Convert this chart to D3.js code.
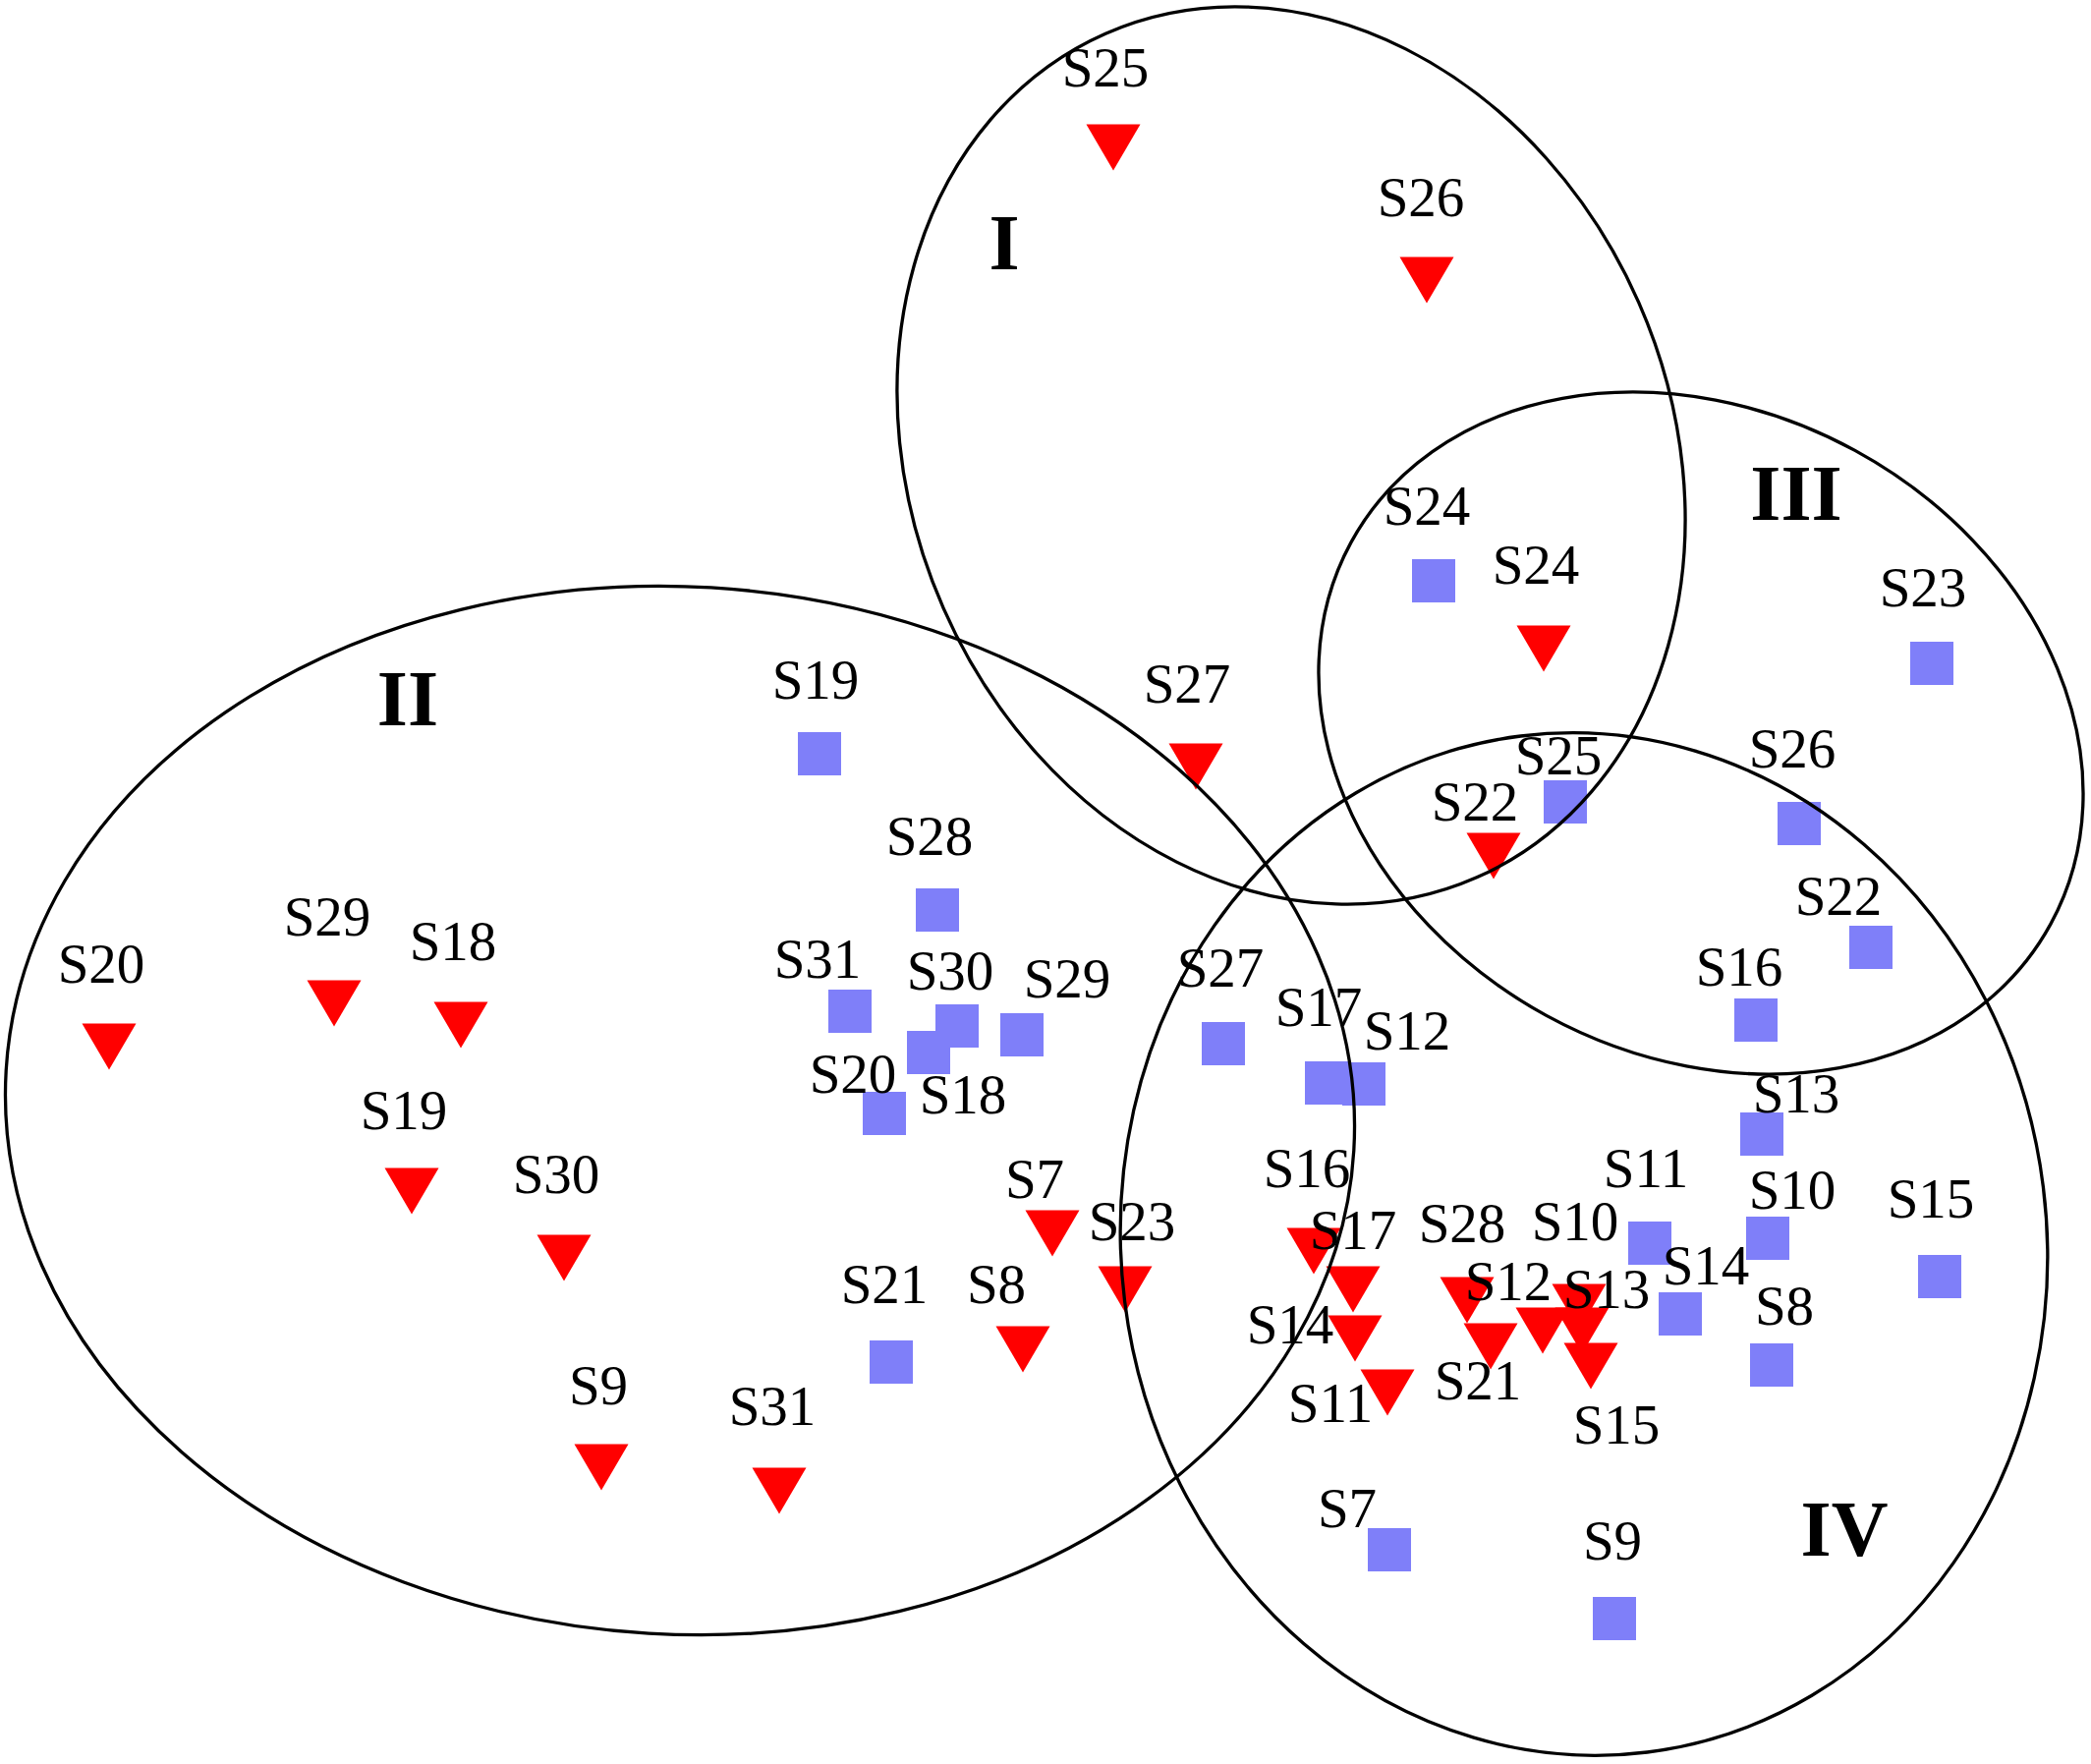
<!DOCTYPE html>
<html>
<head>
<meta charset="utf-8">
<script src="https://cdn.jsdelivr.net/npm/d3@7"></script>
<style>
  html, body { margin: 0; padding: 0; background: #ffffff; }
  svg { display: block; }
</style>
</head>
<body>
<div id="chart"></div>
<script>
// ---------- DATA (ordination coordinates, NMDS1 / NMDS2) ----------
const redSites = ["S25","S26","S24","S27","S22","S20","S29","S18","S19","S30","S9","S31","S7","S23","S8","S16","S17","S14","S11","S28","S21","S12","S10","S13","S15"];
const redX = [0.069,0.388,0.507,0.153,0.456,-0.953,-0.724,-0.595,-0.645,-0.490,-0.452,-0.271,0.007,0.081,-0.023,0.273,0.313,0.315,0.348,0.429,0.453,0.506,0.543,0.546,0.555];
const redY = [0.750,0.615,0.240,0.120,0.029,-0.165,-0.121,-0.143,-0.312,-0.380,-0.593,-0.617,-0.355,-0.412,-0.473,-0.373,-0.412,-0.462,-0.517,-0.423,-0.470,-0.454,-0.430,-0.454,-0.490];
// label anchor positions (same ordination units)
const redLabX = [0.061,0.382,0.499,0.144,0.437,-0.961,-0.731,-0.603,-0.653,-0.498,-0.455,-0.278,-0.011,0.088,-0.050,0.266,0.313,0.249,0.290,0.424,0.440,0.471,0.539,0.571,0.581];
const redLabY = [0.812,0.680,0.306,0.185,0.065,-0.100,-0.052,-0.077,-0.249,-0.314,-0.529,-0.550,-0.319,-0.362,-0.426,-0.308,-0.371,-0.467,-0.547,-0.364,-0.524,-0.423,-0.362,-0.431,-0.569];

const blueSites = ["S24","S23","S25","S26","S19","S28","S31","S30","S18","S29","S20","S21","S22","S16","S27","S17","S12","S13","S11","S10","S15","S14","S8","S7","S9"];
const blueX = [0.395,0.902,0.529,0.767,-0.230,-0.110,-0.199,-0.090,-0.119,-0.024,-0.164,-0.157,0.840,0.723,0.181,0.286,0.324,0.729,0.615,0.735,0.910,0.646,0.739,0.350,0.579];
const blueY = [0.309,0.225,0.084,0.062,0.133,-0.026,-0.129,-0.144,-0.171,-0.153,-0.233,-0.486,-0.064,-0.138,-0.162,-0.202,-0.203,-0.254,-0.365,-0.360,-0.399,-0.437,-0.489,-0.677,-0.747];
const blueLabX = [0.388,0.893,0.522,0.760,-0.234,-0.118,-0.232,-0.097,-0.084,0.022,-0.196,-0.164,0.807,0.706,0.178,0.278,0.368,0.764,0.611,0.760,0.901,0.672,0.752,0.307,0.577];
const blueLabY = [0.366,0.283,0.112,0.119,0.189,0.030,-0.095,-0.107,-0.233,-0.115,-0.212,-0.426,-0.031,-0.103,-0.104,-0.144,-0.168,-0.232,-0.308,-0.330,-0.339,-0.407,-0.448,-0.654,-0.687];

// grouping ellipses
const groupNames = ["I","II","III","IV"];
const groupCX = [0.250,-0.372,0.667,0.548];
const groupCY = [0.4365,-0.230,0.154,-0.366];
const groupRX = [0.3865,0.687,0.4055,0.471];
const groupRY = [0.469,0.533,0.3276,0.521];
const groupAngle = [-23.75,3.4,28.6,-7.1];
const groupLabX = [-0.042,-0.649,0.764,0.813];
const groupLabY = [0.626,0.162,0.371,-0.683];

// ---------- LAYOUT ----------
const W = 2128, H = 1795;
const x = d3.scaleLinear().domain([-1.064, 1.064]).range([0, W]);
const y = d3.scaleLinear().domain([-0.895, 0.900]).range([H, 0]);

const svg = d3.select("#chart").append("svg")
  .attr("width", W).attr("height", H)
  .attr("viewBox", `0 0 ${W} ${H}`);

svg.append("rect").attr("width", W).attr("height", H).attr("fill", "#ffffff");

const red = redSites.map((s, i) => ({ s, x: redX[i], y: redY[i], lx: redLabX[i], ly: redLabY[i] }));
const blue = blueSites.map((s, i) => ({ s, x: blueX[i], y: blueY[i], lx: blueLabX[i], ly: blueLabY[i] }));
const groups = groupNames.map((n, i) => ({ n, cx: groupCX[i], cy: groupCY[i], rx: groupRX[i], ry: groupRY[i], a: groupAngle[i], lx: groupLabX[i], ly: groupLabY[i] }));

const triW = 55, triH = 47, sq = 44;
const triPath = `M${-triW/2},${-triH/2}L${triW/2},${-triH/2}L0,${triH/2}Z`;

// markers
svg.append("g").selectAll("rect").data(blue).join("rect")
  .attr("x", d => x(d.x) - sq/2).attr("y", d => y(d.y) - sq/2)
  .attr("width", sq).attr("height", sq)
  .attr("fill", "#7f7ff9");

svg.append("g").selectAll("path").data(red).join("path")
  .attr("d", triPath)
  .attr("transform", d => `translate(${x(d.x)},${y(d.y)})`)
  .attr("fill", "#ff0000");

// ellipses
svg.append("g").selectAll("ellipse").data(groups).join("ellipse")
  .attr("cx", 0).attr("cy", 0)
  .attr("rx", d => x(d.rx) - x(0))
  .attr("ry", d => y(0) - y(d.ry))
  .attr("transform", d => `translate(${x(d.cx)},${y(d.cy)}) rotate(${d.a})`)
  .attr("fill", "none").attr("stroke", "#000").attr("stroke-width", 3.3);

// labels
const font = "'Liberation Serif', 'Times New Roman', serif";
svg.append("g").selectAll("text").data(red.concat(blue)).join("text")
  .attr("x", d => x(d.lx)).attr("y", d => y(d.ly))
  .attr("text-anchor", "middle")
  .attr("font-family", font).attr("font-size", 57)
  .attr("fill", "#000")
  .text(d => d.s);

svg.append("g").selectAll("text").data(groups).join("text")
  .attr("x", d => x(d.lx)).attr("y", d => y(d.ly))
  .attr("text-anchor", "middle")
  .attr("font-family", font).attr("font-size", 80).attr("font-weight", "bold")
  .attr("fill", "#000")
  .text(d => d.n);
</script>
</body>
</html>
